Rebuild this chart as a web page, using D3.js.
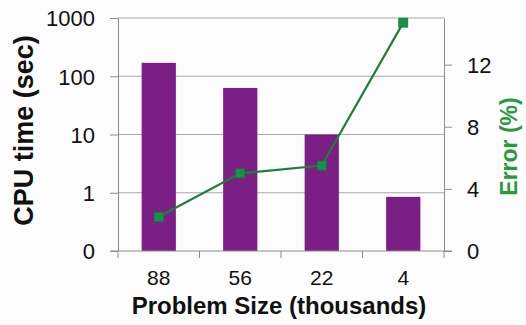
<!DOCTYPE html>
<html>
<head>
<meta charset="utf-8">
<script src="https://cdn.jsdelivr.net/npm/d3@7/dist/d3.min.js"></script>
<style>
  html, body { margin: 0; padding: 0; background: #fcfcfc; }
  svg { display: block; font-family: "Liberation Sans", Arial, sans-serif; }
</style>
</head>
<body>
<svg id="chart" width="526" height="325"></svg>
<script>
// Problem sizes (thousands) and measured results
const categories = ["88", "56", "22", "4"];
const cpuTime = [170, 63, 10, 0.85];        // seconds, log axis
const errorPct = [2.2, 5.0, 5.5, 14.7];     // percent, linear axis
const cpuTicks = [0.1, 1, 10, 100, 1000];
const cpuTickLabels = ["0", "1", "10", "100", "1000"];
const errorTicks = [0, 4, 8, 12];

const width = 526, height = 325;
const margin = { top: 18, right: 82, bottom: 74, left: 118 };
const innerW = width - margin.left - margin.right;
const innerH = height - margin.top - margin.bottom;

const svg = d3.select("#chart");
const g = svg.append("g").attr("transform", `translate(${margin.left},${margin.top})`);

const x = d3.scaleBand().domain(categories).range([0, innerW]).paddingInner(0.58).paddingOuter(0.29);
const xBounds = d3.scaleLinear().domain([0, categories.length]).range([0, innerW]);
const yLeft = d3.scaleLog().domain([0.1, 1000]).range([innerH, 0]);
const yRight = d3.scaleLinear().domain([0, 15]).range([innerH, 0]);

const gridColor = "#a8a8a8";
const axisColor = "#8c8c8c";

// horizontal gridlines at each decade
g.append("g").selectAll("line")
  .data(cpuTicks.slice(1))
  .join("line")
  .attr("x1", 0).attr("x2", innerW)
  .attr("y1", d => yLeft(d)).attr("y2", d => yLeft(d))
  .attr("stroke", gridColor).attr("stroke-width", 1);

// bars
g.append("g").selectAll("rect")
  .data(categories)
  .join("rect")
  .attr("x", d => x(d))
  .attr("width", x.bandwidth())
  .attr("y", (d, i) => yLeft(cpuTime[i]))
  .attr("height", (d, i) => innerH - yLeft(cpuTime[i]))
  .attr("fill", "#7b1e85");

// left axis
const leftAxis = g.append("g")
  .call(d3.axisLeft(yLeft).tickValues(cpuTicks)
    .tickFormat((d, i) => cpuTickLabels[i]).tickSize(8).tickSizeOuter(0).tickPadding(15));
leftAxis.select(".domain").attr("stroke", axisColor);
leftAxis.selectAll(".tick line").attr("stroke", axisColor);
leftAxis.selectAll(".tick text").attr("font-size", 22).attr("fill", "#111").attr("dy", "0.36em");

// right axis
const rightAxis = g.append("g").attr("transform", `translate(${innerW},0)`)
  .call(d3.axisRight(yRight).tickValues(errorTicks).tickSize(8).tickSizeOuter(0).tickPadding(15));
rightAxis.select(".domain").attr("stroke", axisColor);
rightAxis.selectAll(".tick line").attr("stroke", axisColor);
rightAxis.selectAll(".tick text").attr("font-size", 22).attr("fill", "#111").attr("dy", "0.36em");

// bottom axis: line with ticks at category boundaries
const bottom = g.append("g").attr("transform", `translate(0,${innerH})`);
bottom.append("line")
  .attr("x1", -8).attr("x2", innerW + 8)
  .attr("stroke", axisColor);
bottom.selectAll("line.bound")
  .data(d3.range(categories.length + 1))
  .join("line").attr("class", "bound")
  .attr("x1", d => xBounds(d)).attr("x2", d => xBounds(d))
  .attr("y1", 0).attr("y2", 7)
  .attr("stroke", axisColor);
bottom.selectAll("text")
  .data(categories)
  .join("text")
  .attr("x", d => x(d) + x.bandwidth() / 2)
  .attr("y", 34)
  .attr("text-anchor", "middle")
  .attr("font-size", 21)
  .attr("fill", "#111")
  .text(d => d);

// error line with square markers
const lineGen = d3.line()
  .x((d, i) => x(categories[i]) + x.bandwidth() / 2)
  .y(d => yRight(d));
g.append("path")
  .datum(errorPct)
  .attr("d", lineGen)
  .attr("fill", "none")
  .attr("stroke", "#1f7f3a")
  .attr("stroke-width", 2.2);
g.append("g").selectAll("rect")
  .data(errorPct)
  .join("rect")
  .attr("x", (d, i) => x(categories[i]) + x.bandwidth() / 2 - 4.5)
  .attr("y", d => yRight(d) - 4.5)
  .attr("width", 9).attr("height", 9)
  .attr("fill", "#13934a")
  .attr("stroke", "#1a7a3c").attr("stroke-width", 0.8);

// axis titles
svg.append("text")
  .attr("transform", `translate(33,${margin.top + innerH / 2 - 4}) rotate(-90)`)
  .attr("text-anchor", "middle")
  .attr("font-size", 27).attr("font-weight", "bold").attr("fill", "#111")
  .text("CPU time (sec)");

svg.append("text")
  .attr("transform", `translate(517,${margin.top + innerH / 2 + 12}) rotate(-90)`)
  .attr("text-anchor", "middle")
  .attr("font-size", 23).attr("font-weight", "bold").attr("fill", "#2a9a3c")
  .text("Error (%)");

svg.append("text")
  .attr("x", margin.left + innerW / 2 - 2)
  .attr("y", 314)
  .attr("text-anchor", "middle")
  .attr("font-size", 24).attr("font-weight", "bold").attr("fill", "#111")
  .text("Problem Size (thousands)");
</script>
</body>
</html>
